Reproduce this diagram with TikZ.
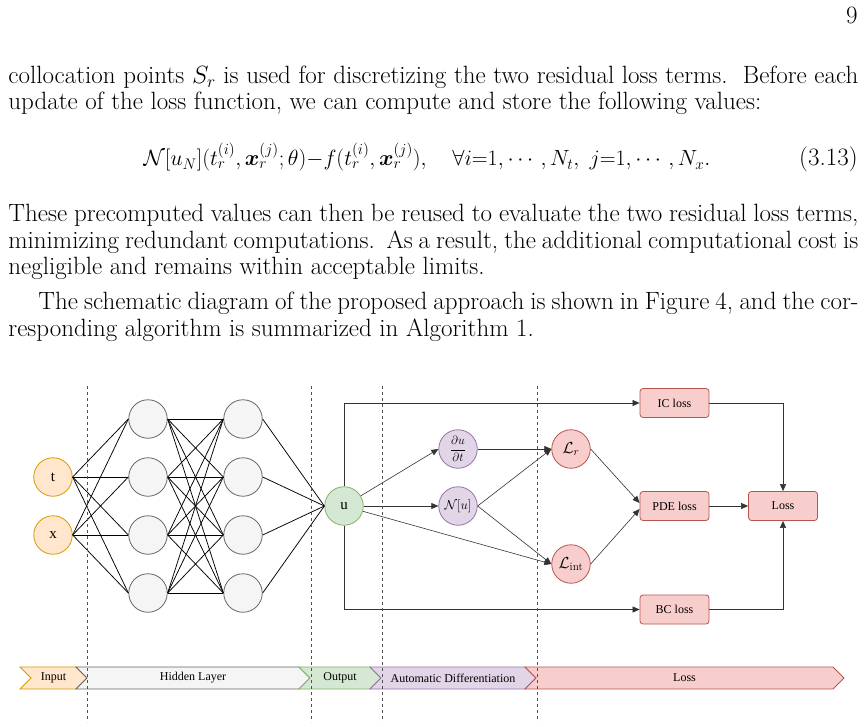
\RequirePackage{fix-cm}
\documentclass[tikz,border=0pt]{standalone}
\usepackage{amsmath}
\usepackage{fontspec}
\newfontfamily\diafont{Liberation Serif}
\usetikzlibrary{arrows.meta}

\definecolor{inpfill}{HTML}{FFE6CC}\definecolor{inpdraw}{HTML}{D79B00}
\definecolor{hidfill}{HTML}{F5F5F5}\definecolor{hiddraw}{HTML}{666666}
\definecolor{outfill}{HTML}{D5E8D4}\definecolor{outdraw}{HTML}{82B366}
\definecolor{adfill}{HTML}{E1D5E7}\definecolor{addraw}{HTML}{9673A6}
\definecolor{lossfill}{HTML}{F8CECC}\definecolor{lossdraw}{HTML}{B85450}
\definecolor{wire}{HTML}{333333}

\begin{document}
\begin{tikzpicture}[x=1pt, y=-1pt, line width=0.8pt,
  txt/.style={inner sep=0pt, font=\fontsize{25}{26}\selectfont},
  neuron/.style={circle, minimum size=38.5pt, inner sep=0pt, line width=0.8pt,
    font=\diafont\fontsize{15}{15}\selectfont},
  mathnode/.style={neuron, font=\fontsize{12}{12}\selectfont},
  lossbox/.style={rectangle, rounded corners=3pt, minimum width=69pt, minimum height=29pt,
    fill=lossfill, draw=lossdraw, line width=0.8pt, font=\diafont\fontsize{12}{12}\selectfont},
  nnline/.style={black, line width=0.75pt},
  arrow/.style={wire, line width=0.6pt, -{Triangle[length=7pt,width=6pt]}},
  barlabel/.style={inner sep=0pt, font=\diafont\fontsize{12}{12}\selectfont},
  layersep/.style={hiddraw!80!black, line width=0.8pt, dash pattern=on 3pt off 3pt}]

  \useasboundingbox (0,0) rectangle (864,727);

  % ---------- page text ----------
  \node[txt, anchor=base east] (pageno) at (858,24) {9};
  \node[txt, anchor=base west] (l1) at (8,84)
    {\makebox[850pt][s]{collocation points $S_r$ is used for discretizing the two residual loss terms.\ \ Before each}};
  \node[txt, anchor=base west] (l2) at (8,110)
    {update of the loss function, we can compute and store the following values:};
  \node[txt, anchor=base, font=\fontsize{22}{26}\selectfont] (eq) at (427,166)
    {$\mathcal{N}[u_N](t_r^{(i)},\boldsymbol{x}_r^{(j)};\theta){-}f(t_r^{(i)},\boldsymbol{x}_r^{(j)}),\quad \forall i{=}1,\cdots,N_t,\ j{=}1,\cdots,N_x.$};
  \node[txt, anchor=base east] (eqno) at (858,166) {(3.13)};
  \node[txt, anchor=base west] (l3) at (8,222)
    {\makebox[850pt][s]{These precomputed values can then be reused to evaluate the two residual loss terms,}};
  \node[txt, anchor=base west] (l4) at (8,248)
    {\makebox[850pt][s]{minimizing redundant computations.\ \ As a result, the additional computational cost is}};
  \node[txt, anchor=base west] (l5) at (8,274)
    {negligible and remains within acceptable limits.};
  \node[txt, anchor=base west] (l6) at (38,309)
    {\makebox[820pt][s]{The schematic diagram of the proposed approach is shown in Figure 4, and the cor-}};
  \node[txt, anchor=base west] (l7) at (8,336)
    {responding algorithm is summarized in Algorithm 1.};

  % ---------- network ----------
  \node[neuron, fill=inpfill, draw=inpdraw] (t) at (53,477) {t};
  \node[neuron, fill=inpfill, draw=inpdraw] (x) at (53,535) {x};
  \foreach \i/\y in {1/419,2/477,3/535,4/593}{
    \node[neuron, fill=hidfill, draw=hiddraw] (ha\i) at (148,\y) {};
    \node[neuron, fill=hidfill, draw=hiddraw] (hb\i) at (243,\y) {};
  }
  \node[neuron, fill=outfill, draw=outdraw] (u) at (344,506) {u};

  \foreach \a in {t,x}{
    \foreach \b in {1,...,4}
      \draw[nnline] (\a.east) -- (ha\b.west);
  }
  \foreach \a in {1,...,4}{
    \foreach \b in {1,...,4}
      \draw[nnline] (ha\a.east) -- (hb\b.west);
    \draw[nnline] (hb\a.east) -- (u.west);
  }

  % ---------- automatic differentiation ----------
  \node[mathnode, fill=adfill, draw=addraw] (dudt) at (458,449) {$\dfrac{\partial u}{\partial t}$};
  \node[mathnode, fill=adfill, draw=addraw, font=\fontsize{13}{13}\selectfont] (nu) at (458,506) {$\mathcal{N}[u]$};
  \node[mathnode, fill=lossfill, draw=lossdraw, font=\fontsize{16}{16}\selectfont] (lr) at (571,449) {$\mathcal{L}_r$};
  \node[mathnode, fill=lossfill, draw=lossdraw, font=\fontsize{16}{16}\selectfont] (lint) at (571,564) {$\mathcal{L}_{\text{int}}$};

  % ---------- losses ----------
  \node[lossbox] (ic) at (674.5,403) {IC loss};
  \node[lossbox] (pde) at (674.5,506) {PDE loss};
  \node[lossbox] (bc) at (674.5,609.5) {BC loss};
  \node[lossbox] (loss) at (783,506) {Loss};

  \draw[arrow] (u) -- (dudt.west);
  \draw[arrow] (u.east) -- (nu.west);
  \draw[arrow] (u) -- (lint.west);
  \draw[arrow] (dudt.east) -- (lr.west);
  \draw[arrow] (nu.east) -- (lr.west);
  \draw[arrow] (nu.east) -- (lint.west);
  \draw[arrow] (lr.east) -- ([yshift=3pt]pde.west);
  \draw[arrow] (lint.east) -- ([yshift=-3pt]pde.west);
  \draw[arrow] (pde.east) -- (loss.west);
  \draw[arrow] (u.north) |- (ic.west);
  \draw[arrow] (u.south) |- (bc.west);
  \draw[arrow] (ic.east) -| (loss.north);
  \draw[arrow] (bc.east) -| (loss.south);

  % ---------- stage bar ----------
  \foreach \l/\r/\fc/\dc/\lab/\nm in {20/76/inpfill/inpdraw/Input/sinp,
      76/299/hidfill/hiddraw/Hidden Layer/shid,
      299/370/outfill/outdraw/Output/sout,
      370/525/adfill/addraw/Automatic Differentiation/sad,
      525/833/lossfill/lossdraw/Loss/sloss}{
    \draw[fill=\fc, draw=\dc] (\l,667) -- (\r,667) -- (\r+11,678) -- (\r,689)
      -- (\l,689) -- (\l+11,678) -- cycle;
    \node[barlabel] (\nm) at ({(\l+\r)/2+5.5},678) {\lab};
  }

  % ---------- stage separators ----------
  \foreach \x in {87,311,382,537}
    \draw[layersep] (\x,386) -- (\x,722);

\end{tikzpicture}
\end{document}
